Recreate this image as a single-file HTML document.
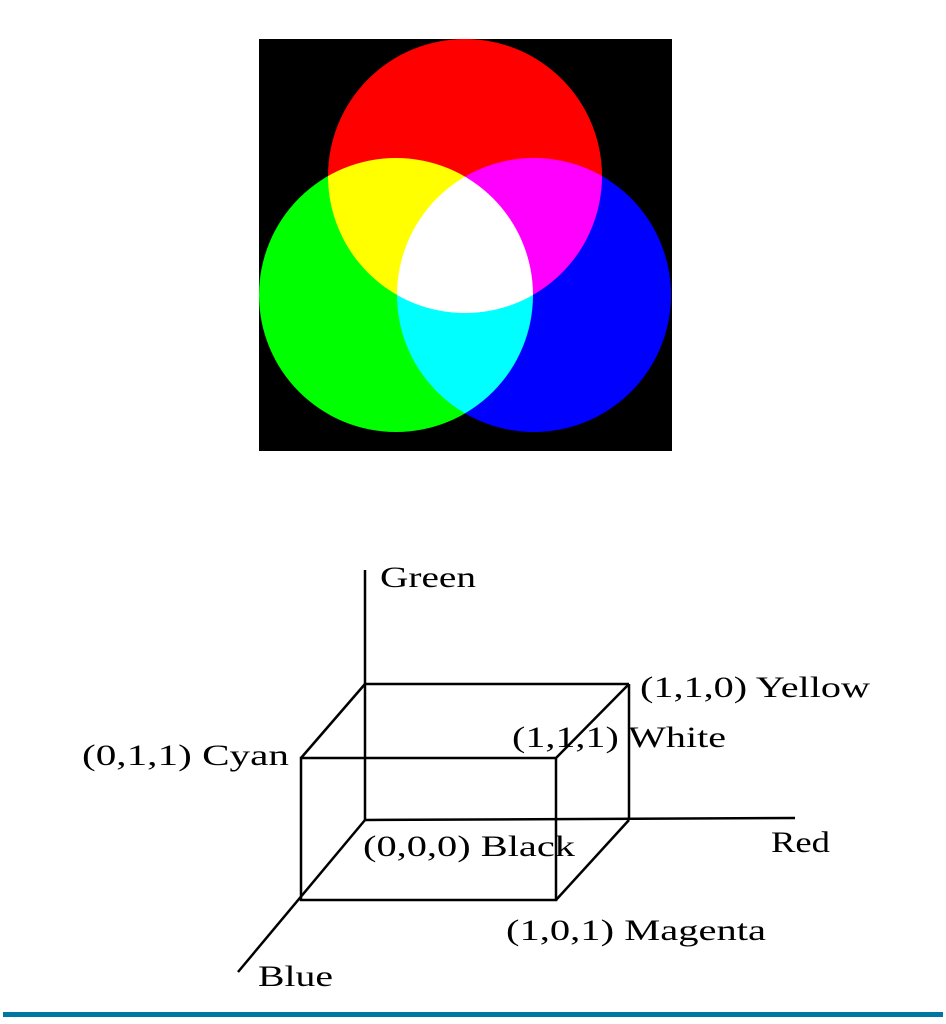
<!DOCTYPE html>
<html><head><meta charset="utf-8"><style>
html,body{margin:0;padding:0;background:#fff;}
svg{display:block;}
text{font-family:"Liberation Serif",serif;font-size:30px;fill:#000;}
</style></head><body>
<svg width="946" height="1024" viewBox="0 0 946 1024">
  <g>
    <rect x="259" y="39" width="413" height="412" fill="#000"/>
    <g style="isolation:isolate">
      <circle cx="465" cy="176" r="137" fill="#ff0000" style="mix-blend-mode:screen"/>
      <circle cx="396" cy="295" r="137" fill="#00ff00" style="mix-blend-mode:screen"/>
      <circle cx="534" cy="295" r="137" fill="#0000ff" style="mix-blend-mode:screen"/>
    </g>
  </g>
  <g stroke="#000" stroke-width="2.5" fill="none">
    <line x1="365" y1="570" x2="365" y2="820"/>
    <line x1="365" y1="820" x2="795" y2="818"/>
    <line x1="365" y1="820" x2="238" y2="972"/>
    <line x1="365" y1="684" x2="629" y2="684"/>
    <line x1="629" y1="684" x2="629" y2="820"/>
    <rect x="301" y="758" width="255" height="142"/>
    <line x1="365" y1="684" x2="301" y2="758"/>
    <line x1="629" y1="684" x2="556" y2="758"/>
    <line x1="629" y1="820" x2="556" y2="900"/>
  </g>
  <text x="380" y="587" textLength="96" lengthAdjust="spacingAndGlyphs">Green</text>
  <text x="640" y="697" textLength="230" lengthAdjust="spacingAndGlyphs">(1,1,0)  Yellow</text>
  <text x="512" y="747" textLength="214" lengthAdjust="spacingAndGlyphs">(1,1,1)  White</text>
  <text x="82" y="765" textLength="207" lengthAdjust="spacingAndGlyphs">(0,1,1)  Cyan</text>
  <text x="363" y="856" textLength="212" lengthAdjust="spacingAndGlyphs">(0,0,0)  Black</text>
  <text x="771" y="852" textLength="59" lengthAdjust="spacingAndGlyphs">Red</text>
  <text x="506" y="940" textLength="260" lengthAdjust="spacingAndGlyphs">(1,0,1)  Magenta</text>
  <text x="258" y="986" textLength="75" lengthAdjust="spacingAndGlyphs">Blue</text>
  <rect x="3" y="1012" width="940" height="5" fill="#0077a3"/>
</svg>
</body></html>
